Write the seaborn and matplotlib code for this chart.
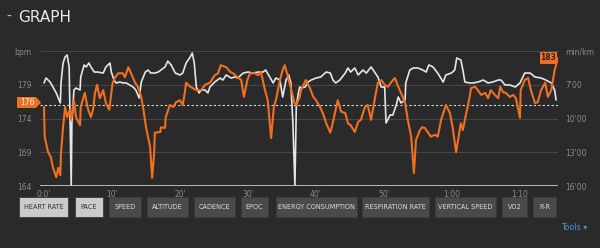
import matplotlib
matplotlib.use("Agg")
import matplotlib.pyplot as plt
import seaborn as sns
import pandas as pd
from matplotlib.patches import Polygon, Rectangle

# ---------------- data ----------------
hr_time = [0.0, 0.1, 0.6, 1.0, 1.3, 1.8, 2.1, 2.4, 2.5, 2.8,
           3.1, 3.4, 3.8, 4.0, 4.4, 4.7, 5.3, 5.4, 6.0, 6.2,
           6.5, 6.9, 7.2, 7.5, 7.8, 8.2, 8.7, 9.1, 9.6, 9.9,
           10.1, 10.4, 10.9, 11.6, 11.9, 12.4, 12.8, 13.4, 13.8, 14.3,
           14.7, 15.0, 15.6, 15.9, 16.2, 16.3, 17.1, 17.2, 17.8, 17.9,
           18.5,
           19.0, 19.4, 20.0, 20.4, 20.7, 20.9, 21.5, 21.9, 22.4, 23.1,
           23.7, 24.4, 25.1, 25.6, 26.0, 26.8, 27.4, 27.8, 28.5, 29.0,
           29.4, 29.9, 30.3, 31.0, 31.5, 31.9, 32.5, 32.9, 33.4, 33.8,
           34.1, 34.7, 35.1, 35.4, 35.9, 36.3, 36.8, 37.1, 37.6,
           37.8, 38.5, 39.1, 39.6, 40.0, 40.6, 41.0, 41.5, 42.1, 42.5,
           42.9, 43.2, 43.7, 44.3, 44.7, 45.1, 45.7, 46.2, 46.6, 47.2,
           47.6, 48.1, 48.7, 49.1, 49.6, 50.1, 50.6, 51.0, 51.6, 52.1,
           52.5, 53.1, 53.5, 54.0, 54.4, 54.7, 55.3, 55.6, 56.0,
           56.9, 57.5, 57.9, 58.4, 59.0, 59.1, 59.7, 60.1, 60.6, 61.2,
           61.3, 61.6, 62.1, 62.6, 62.8, 63.4, 63.8, 64.3, 64.9, 65.3,
           65.7, 66.3, 66.8, 67.1, 67.5, 67.9, 68.5, 69.0, 69.4, 70.0,
           70.1, 70.7, 71.2, 71.6, 72.2, 72.6, 73.1, 73.7, 74.1, 74.6,
           75.1, 75.6]
hr_bpm = [175.7, 171.3, 169.0, 168.3, 166.8, 165.3, 166.7, 165.6, 168.9, 172.7,
          175.7, 174.2, 175.3, 173.8, 176.7, 174.2, 173.0, 175.7, 177.8, 176.7,
          175.3, 174.2, 175.3, 177.8, 179.0, 177.0, 178.2, 176.3, 175.3, 177.8,
          179.3, 180.0, 180.7, 180.7, 180.1, 181.6, 180.7, 179.3, 178.7, 177.2,
          174.8, 172.7, 169.8, 165.2, 168.9, 171.9, 172.0, 172.7, 172.6, 174.2,
          176.0,
          175.7, 176.4, 176.7, 176.0, 177.8, 179.3, 178.7, 178.5, 178.2, 178.2,
          179.0, 179.3, 180.4, 180.7, 181.9, 181.6, 180.9, 180.7, 180.1, 179.7,
          177.2, 179.7, 180.7, 180.7, 180.4, 180.9, 178.2, 176.7, 171.1, 175.7,
          176.7, 179.7, 181.2, 181.9, 180.1, 178.5, 176.4, 176.0, 177.2,
          178.2, 179.7, 178.5, 177.2, 176.7, 175.7, 174.8, 173.3, 171.9, 173.5,
          175.3, 176.7, 175.0, 174.8, 173.3, 173.0, 172.0, 173.5, 173.8, 175.7,
          176.0, 173.8, 177.2, 179.3, 179.7, 179.0, 178.7, 179.3, 180.0, 178.7,
          177.8, 176.3, 173.8, 171.3, 165.9, 170.8, 172.3, 172.7, 172.6,
          171.3, 171.6, 171.3, 173.8, 175.7, 176.0, 174.8, 172.7, 169.0, 172.7,
          173.3, 172.3, 174.8, 177.2, 178.5, 178.7, 178.2, 177.5, 177.8, 177.0,
          178.2, 177.5, 177.0, 178.7, 177.9, 177.8, 177.2, 177.5, 177.0, 174.1,
          178.2, 179.7, 180.0, 178.2, 176.3, 176.4, 178.2, 179.3, 177.2, 178.2,
          181.2, 183.0]

pace_time = [0.0, 0.3, 0.9, 1.3, 1.8, 2.4, 2.5, 2.8, 3.1, 3.4,
             3.7, 3.8, 4.0, 4.1, 4.4, 4.7, 5.3, 5.4, 5.9, 6.2,
             6.6, 6.9, 7.4, 7.9, 8.7, 9.1, 9.7, 9.9, 10.3, 10.6,
             11.2, 11.6, 12.1, 12.6, 13.1, 13.5, 14.0, 14.3, 14.9, 15.3,
             15.7, 16.3, 16.8, 17.2, 17.8, 18.2,
             18.7, 19.3, 20.0, 20.4, 20.9, 21.5, 21.8, 22.1, 22.4, 22.8,
             23.1, 23.7, 24.1, 24.4, 25.1, 25.9, 26.3, 26.8, 27.5, 28.1,
             28.5, 29.3, 30.0, 30.7, 31.5, 32.2, 32.6, 33.2, 33.7, 34.1,
             34.7, 35.1, 35.6, 36.0, 36.3, 36.6, 36.9, 37.1, 37.4, 37.6,
             37.8, 38.4, 38.8, 39.3, 40.0, 40.7, 41.5, 42.1, 42.5, 42.9,
             43.5, 44.3, 44.7, 45.1, 45.7, 46.2, 46.9, 47.4, 48.1, 48.7,
             49.1, 49.6, 50.1, 50.3, 50.9, 51.3, 51.8, 52.1, 52.5, 53.1,
             53.2, 53.8, 54.3, 55.0, 55.7, 56.2,
             56.6, 57.2, 57.9, 58.7, 59.1, 59.9, 60.4, 60.7, 61.3, 61.6,
             61.9, 62.6, 63.1, 63.8, 64.6, 65.3, 66.0, 66.8, 67.2, 67.8,
             68.5, 69.3, 70.0, 70.7, 71.5, 72.2, 73.1, 73.8, 74.6, 75.1,
             75.3]
pace_min_km = [6.84, 6.40, 6.76, 7.20, 7.73, 8.62, 6.84, 5.07, 4.53, 4.36,
               5.42, 8.98, 16.0, 10.40, 7.47, 7.29, 7.47, 6.31, 5.24, 5.42,
               5.07, 5.42, 5.87, 5.87, 5.96, 5.42, 5.07, 5.87, 6.58, 6.84,
               6.76, 6.84, 6.84, 7.02, 7.20, 7.47, 8.18, 6.76, 5.87, 5.69,
               5.96, 5.96, 5.87, 5.69, 5.42, 4.90,
               5.24, 5.96, 6.13, 5.96, 5.07, 4.53, 4.18, 5.07, 7.20, 7.73,
               7.47, 7.47, 7.73, 7.20, 6.76, 6.40, 6.58, 6.13, 6.40, 6.31,
               6.40, 5.96, 5.87, 5.96, 5.87, 5.87, 5.69, 6.31, 6.84, 6.40,
               6.58, 8.09, 6.58, 6.13, 6.84, 10.40, 16.0, 8.98, 7.73, 7.20,
               7.29, 7.20, 6.76, 6.58, 6.40, 6.31, 5.87, 5.96, 6.58, 6.84,
               6.58, 5.96, 5.51, 5.87, 5.51, 6.13, 5.69, 5.96, 5.42, 5.96,
               6.31, 7.20, 7.20, 10.40, 9.69, 9.69, 8.80, 8.09, 8.62, 8.36,
               6.84, 5.69, 5.51, 5.51, 5.69, 5.87,
               5.24, 5.42, 5.96, 6.76, 6.13, 5.96, 5.69, 4.62, 4.80, 5.69,
               6.76, 6.84, 6.84, 6.76, 6.58, 6.84, 6.76, 6.58, 6.58, 7.02,
               7.02, 7.20, 6.84, 5.96, 5.96, 6.31, 6.40, 6.58, 6.84, 7.47,
               8.36]

hr_ticks = [164, 169, 174, 179, 184]
hr_tick_labels = ["164", "169", "174", "179", "bpm"]
pace_ticks = [4, 7, 10, 13, 16]
pace_tick_labels = ["min/km", "7'00", "10'00", "13'00", "16'00"]
time_ticks = [0, 10, 20, 30, 40, 50, 60, 70]
time_tick_labels = ["0:0'", "10'", "20'", "30'", "40'", "50'", "1:00", "1:10"]
avg_hr = 176
last_hr = 183
title = "GRAPH"
buttons = ["HEART RATE", "PACE", "SPEED", "ALTITUDE", "CADENCE", "EPOC",
           "ENERGY CONSUMPTION", "RESPIRATION RATE", "VERTICAL SPEED", "VO2", "R-R"]
active_buttons = ["HEART RATE", "PACE"]
tools_label = "Tools \u25BE"

# ---------------- layout / style ----------------
W, H = 600, 248
BG = "#2a2a2a"
ORANGE = "#ef7022"
WHITE = "#e6e6e6"
GRID = "#454545"
TICK = "#8a8a8a"
button_px = [(19, 68), (75, 103), (109, 141), (147, 188), (194, 235), (241, 268),
             (276, 357), (362, 429), (435, 496), (502, 527), (533, 556)]


def fx(x):
    return x / W


def fy(y):
    return 1 - y / H


sns.set_theme(style="dark", rc={"axes.facecolor": BG, "figure.facecolor": BG,
                                "savefig.facecolor": BG})
plt.rcParams["font.family"] = ["DejaVu Sans"]

fig = plt.figure(figsize=(W / 100, H / 100), dpi=100, facecolor=BG)
ax2 = fig.add_axes([fx(40), fy(186), (558 - 40) / W, (186 - 51) / H])
ax = ax2.twinx()

hr_df = pd.DataFrame({"time": hr_time, "bpm": hr_bpm})
pace_df = pd.DataFrame({"time": pace_time, "pace": pace_min_km})

sns.lineplot(data=pace_df, x="time", y="pace", ax=ax2, color=WHITE, lw=1.2,
             estimator=None, sort=False)
sns.lineplot(data=hr_df, x="time", y="bpm", ax=ax, color=ORANGE, lw=1.5,
             estimator=None, sort=False, zorder=3)
ax.axhline(avg_hr, color="#d8d8d8", lw=0.8, ls=(0, (2, 2)), zorder=2)
ax.axhline(164, color="#cfcfcf", lw=1.2, zorder=4)

ax.set_zorder(2)
ax2.set_zorder(1)
ax.patch.set_visible(False)
ax2.patch.set_visible(False)

ax.set_xlim(-0.59, 75.59)
ax2.set_xlim(-0.59, 75.59)
ax.set_ylim(164, 184)
ax2.set_ylim(16, 4)

ax.yaxis.tick_left()
ax2.yaxis.tick_right()
ax.set_yticks(hr_ticks)
ax.set_yticklabels(hr_tick_labels)
ax2.set_yticks(pace_ticks)
ax2.set_yticklabels(pace_tick_labels)
ax2.set_xticks(time_ticks)
ax2.set_xticklabels(time_tick_labels)
ax.tick_params(axis="x", bottom=False, labelbottom=False)
for a in (ax, ax2):
    a.set_xlabel("")
    a.set_ylabel("")
    a.tick_params(length=0, colors=TICK, labelsize=5.5, pad=6)
    for s in a.spines.values():
        s.set_visible(False)
    a.grid(False)
ax2.tick_params(axis="x", pad=3)
ax2.tick_params(axis="y", pad=5)
for lab in ax2.get_yticklabels():
    lab.set_horizontalalignment("left")
ax2.yaxis.grid(True, color=GRID, lw=0.8)
ax2.set_axisbelow(True)

# title
fig.text(fx(6), fy(17), "-", color="#bbbbbb", fontsize=10, va="center", ha="left")
fig.text(fx(18), fy(17), title, color="#e8e8e8", fontsize=11, va="center", ha="left")

# left average label (176)
poly = Polygon([(fx(17), fy(97)), (fx(36), fy(97)), (fx(41), fy(102.5)),
                (fx(36), fy(108)), (fx(17), fy(108))], closed=True,
               transform=fig.transFigure, facecolor=ORANGE, edgecolor="none")
fig.patches.append(poly)
fig.text(fx(27.5), fy(102.5), str(avg_hr), color="#fff0e6", fontsize=5.5,
         ha="center", va="center")

# right current label (183)
fig.patches.append(Rectangle((fx(540), fy(64)), (557 - 540) / W, (64 - 52) / H,
                             transform=fig.transFigure, facecolor=ORANGE,
                             edgecolor="none", zorder=5))
fig.text(fx(548.5), fy(58), str(last_hr), color="#2a2a2a", fontsize=5.5,
         ha="center", va="center", fontweight="bold", zorder=6)

# buttons
for name, (x0, x1) in zip(buttons, button_px):
    active = name in active_buttons
    fc = "#cbcbcb" if active else "#4a4a4a"
    tc = "#333333" if active else "#dcdcdc"
    fig.patches.append(Rectangle((fx(x0), fy(217)), (x1 - x0) / W, 20 / H,
                                 transform=fig.transFigure, facecolor=fc,
                                 edgecolor="#3a3a3a", lw=0.6))
    fig.text(fx((x0 + x1) / 2), fy(207), name, color=tc, fontsize=4.7,
             ha="center", va="center")

fig.text(fx(574), fy(228), tools_label, color="#4d8fd6", fontsize=5.8,
         ha="center", va="center")

fig.savefig("out.png", dpi=100, facecolor=BG)
